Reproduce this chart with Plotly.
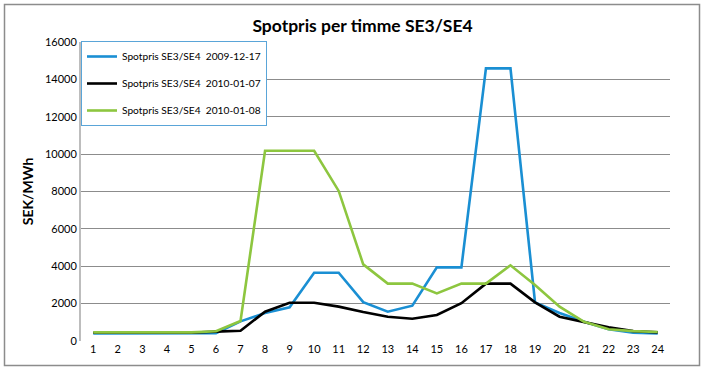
import plotly.graph_objects as go

hours = list(range(1, 25))
tick_labels = [str(h) for h in hours]

se_2009_12_17 = [400, 400, 400, 400, 400, 420, 1050, 1500, 1800, 3650, 3650, 2080,
                 1570, 1890, 3940, 3940, 14590, 14590, 2070, 1500, 1030, 630, 450, 410]
se_2010_01_07 = [440, 440, 440, 440, 440, 500, 550, 1570, 2050, 2050, 1840, 1550,
                 1300, 1190, 1390, 2020, 3070, 3070, 2070, 1300, 1030, 730, 530, 460]
se_2010_01_08 = [460, 460, 460, 460, 460, 520, 1070, 10180, 10180, 10180, 8030, 4100,
                 3070, 3070, 2550, 3070, 3070, 4050, 3000, 1840, 1030, 630, 530, 480]

names = ["Spotpris SE3/SE4\u00a0\u00a02009-12-17",
         "Spotpris SE3/SE4\u00a0\u00a02010-01-07",
         "Spotpris SE3/SE4\u00a0\u00a02010-01-08"]
colors = ["#1a8fd3", "#000000", "#8dc63f"]
series = [se_2009_12_17, se_2010_01_07, se_2010_01_08]

fig = go.Figure()
for i, (nm, col, ys) in enumerate(zip(names, colors, series)):
    fig.add_trace(go.Scatter(x=tick_labels, y=ys, mode="lines", name=nm,
                             legendgroup=str(i),
                             line=dict(color=col, width=2.6)))

L, R, T, B = 81, 34, 42, 29
W, H = 704, 370
pw = W - L - R
ph = H - T - B

def px(x):
    return (x - L) / pw

def py(y):
    return (H - B - y) / ph

fig.update_layout(
    width=W, height=H,
    margin=dict(l=L, r=R, t=T, b=B, autoexpand=False),
    paper_bgcolor="white", plot_bgcolor="white",
    font=dict(family="Lato, Open Sans, sans-serif", size=11, color="black"),
    title=dict(text="<b>Spotpris per timme SE3/SE4</b>", x=0.515, xanchor="center",
               y=1 - 26 / H, yanchor="middle",
               font=dict(size=17.5, color="black")),
    showlegend=True,
    legend=dict(x=px(81), y=py(41), xanchor="left", yanchor="top",
                bgcolor="white", bordercolor="#5aa5d8", borderwidth=1,
                font=dict(size=10.2), tracegroupgap=8, itemwidth=30),
    xaxis=dict(type="category", showgrid=False, showline=False, ticks="",
               tickfont=dict(size=11), range=[-0.5, 23.5], zeroline=False,
               fixedrange=True),
    yaxis=dict(range=[0, 16000], dtick=2000, tickformat="d", showgrid=True,
               gridcolor="#8c8c8c", gridwidth=1, showline=True,
               linecolor="#bdbdbd", linewidth=2,
               ticks="", tickfont=dict(size=11), zeroline=False,
               title=dict(text="<b>SEK/MWh</b>", font=dict(size=14), standoff=8)),
    shapes=[dict(type="rect", xref="paper", yref="paper",
                 x0=px(4.5), x1=px(699.5), y0=py(365.5), y1=py(4.5),
                 line=dict(color="#8c8c8c", width=1.5), layer="below")],
)

fig.write_html("out.html", config={"displayModeBar": False},
               post_script="document.body.style.margin='0';")
